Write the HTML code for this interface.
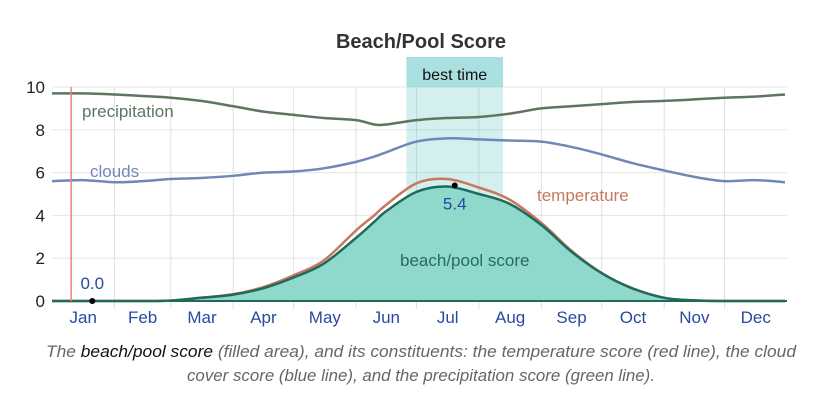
<!DOCTYPE html>
<html><head><meta charset="utf-8"><style>
html,body{margin:0;padding:0;background:#fff;}
svg{display:block;font-family:"Liberation Sans",sans-serif;}
</style></head><body>
<svg id="chart" width="835" height="417" viewBox="0 0 835 417" xmlns="http://www.w3.org/2000/svg">
<text x="421" y="48" text-anchor="middle" font-size="20" font-weight="bold" fill="#333">Beach/Pool Score</text>
<g id="grid"></g>
<g id="band"></g>
<g id="series"></g>
<g id="axes"></g>
<text x="421" y="357" text-anchor="middle" font-size="17" font-style="italic" fill="#666" textLength="750" lengthAdjust="spacingAndGlyphs">The <tspan fill="#111">beach/pool score</tspan> (filled area), and its constituents: the temperature score (red line), the cloud</text>
<text x="421" y="381" text-anchor="middle" font-size="17" font-style="italic" fill="#666" textLength="468" lengthAdjust="spacingAndGlyphs">cover score (blue line), and the precipitation score (green line).</text>
</svg>
<script>
const days = [0,15,31,45,59,74,90,105,120,135,151,160,166,181,196,212,227,243,258,273,288,304,319,334,349,364];
const precip = [9.7,9.7,9.65,9.58,9.5,9.35,9.1,8.85,8.7,8.55,8.45,8.25,8.25,8.45,8.55,8.6,8.75,9.0,9.1,9.2,9.3,9.35,9.42,9.5,9.55,9.65];
const clouds = [5.6,5.65,5.55,5.6,5.7,5.75,5.85,6.0,6.05,6.2,6.5,6.75,6.95,7.45,7.6,7.55,7.5,7.45,7.2,6.85,6.45,6.1,5.8,5.6,5.65,5.55];
const temperature = [0,0,0,0,0.02,0.15,0.32,0.65,1.2,1.9,3.3,4.0,4.5,5.5,5.7,5.3,4.75,3.65,2.35,1.3,0.6,0.15,0.03,0,0,0];
const beach = [0,0,0,0,0.02,0.15,0.3,0.6,1.1,1.75,2.95,3.7,4.2,5.1,5.35,5.0,4.55,3.55,2.3,1.3,0.6,0.15,0.03,0,0,0];
const yTicks = [0,2,4,6,8,10];
const months = ["Jan","Feb","Mar","Apr","May","Jun","Jul","Aug","Sep","Oct","Nov","Dec"];
const monthStarts = [0,31,59,90,120,151,181,212,243,273,304,334,365];
const bestStart = 176, bestEnd = 224;
const markerLow = {day:20, value:0.0};
const markerHigh = {day:200, value:5.4};
const todayDay = 9.5;

const X0=52, X1=787, Y0=301, Y10=87;
const xs = d => X0 + d/365*(X1-X0);
const ys = v => Y0 - v/10*(Y0-Y10);
const NS="http://www.w3.org/2000/svg";
function mk(tag, parent, attrs){const e=document.createElementNS(NS,tag);for(const k in attrs)e.setAttribute(k,attrs[k]);document.getElementById(parent).appendChild(e);return e;}
function path(vals){
  const p=days.map((d,i)=>[xs(d),ys(vals[i])]);
  let s="M"+p[0][0]+","+p[0][1];
  for(let i=0;i<p.length-1;i++){
    const a=p[Math.max(0,i-1)],b=p[i],c=p[i+1],e=p[Math.min(p.length-1,i+2)];
    const c1=[b[0]+(c[0]-a[0])/6,b[1]+(c[1]-a[1])/6], c2=[c[0]-(e[0]-b[0])/6,c[1]-(e[1]-b[1])/6];
    s+=" C"+c1[0]+","+c1[1]+" "+c2[0]+","+c2[1]+" "+c[0]+","+c[1];
  }
  return s;
}
yTicks.forEach(t=>{
  const l=mk("line","grid",{x1:X0,x2:X1,y1:ys(t),y2:ys(t),stroke:"#e6e6e6","stroke-width":1});
  
  
  const tx=mk("text","axes",{x:45,y:ys(t)+6,"text-anchor":"end","font-size":17,fill:"#222"});
  tx.textContent=t;
  
  
});
monthStarts.slice(1,12).forEach(d=>{
  const l=mk("line","grid",{x1:xs(d),x2:xs(d),y1:Y10,y2:Y0+8,stroke:"#e0e0e0","stroke-width":1});
  
  
});
months.forEach((m,i)=>{
  const tx=mk("text","axes",{x:xs((monthStarts[i]+monthStarts[i+1])/2),y:323,"text-anchor":"middle","font-size":17,fill:"#2a4aa0"});
  tx.textContent=m;
  
  
});
const area=mk("path","series",{d:path(beach)+" L"+xs(days[days.length-1])+","+Y0+" L"+xs(0)+","+Y0+" Z",fill:"#8ed8cc"});


const band=mk("rect","band",{x:xs(bestStart),y:57,width:xs(bestEnd)-xs(bestStart),height:Y0-57,fill:"rgba(80,190,190,0.25)"});


const bh=mk("rect","band",{x:xs(bestStart),y:57,width:xs(bestEnd)-xs(bestStart),height:30,fill:"rgba(80,190,190,0.3)"});


const bt=mk("text","band",{x:(xs(bestStart)+xs(bestEnd))/2,y:80,"text-anchor":"middle","font-size":16,fill:"#111"});
bt.textContent="best time";


[[precip,"#5f7560","precipitation-line"],[clouds,"#7088b8","clouds-line"],[temperature,"#c87860","temperature-line"],[beach,"#1f6a5a","beach-score-line"]].forEach(([v,c,n])=>{
  const p=mk("path","series",{d:path(v),fill:"none",stroke:c,"stroke-width":2.5});
  
  
});
const base=mk("line","series",{x1:X0,x2:X1,y1:Y0,y2:Y0,stroke:"#1f6a5a","stroke-width":2});


const today=mk("line","series",{x1:xs(todayDay),x2:xs(todayDay),y1:Y10,y2:Y0,stroke:"#f08080","stroke-width":1.5});


[["precipitation",82,117,"#5f7560","precipitation-label"],["clouds",90,177,"#7088b8","clouds-label"],["temperature",537,201,"#c87860","temperature-label"],["beach/pool score",400,266,"#2a6a5e","beach-score-label"]].forEach(([t,x,y,c,n])=>{
  const e=mk("text","series",{x:x,y:y,"font-size":17,fill:c});
  e.textContent=t;
  
  
});
[[markerLow,-12,"min-marker"],[markerHigh,24,"max-marker"]].forEach(([m,dy,n])=>{
  const c=mk("circle","series",{cx:xs(m.day),cy:ys(m.value),r:3,fill:"#000"});
  
  
  const t=mk("text","series",{x:xs(m.day),y:ys(m.value)+dy,"text-anchor":"middle","font-size":17,fill:"#2a4aa0"});
  t.textContent=m.value.toFixed(1);
  
  
});
</script>
</body></html>
